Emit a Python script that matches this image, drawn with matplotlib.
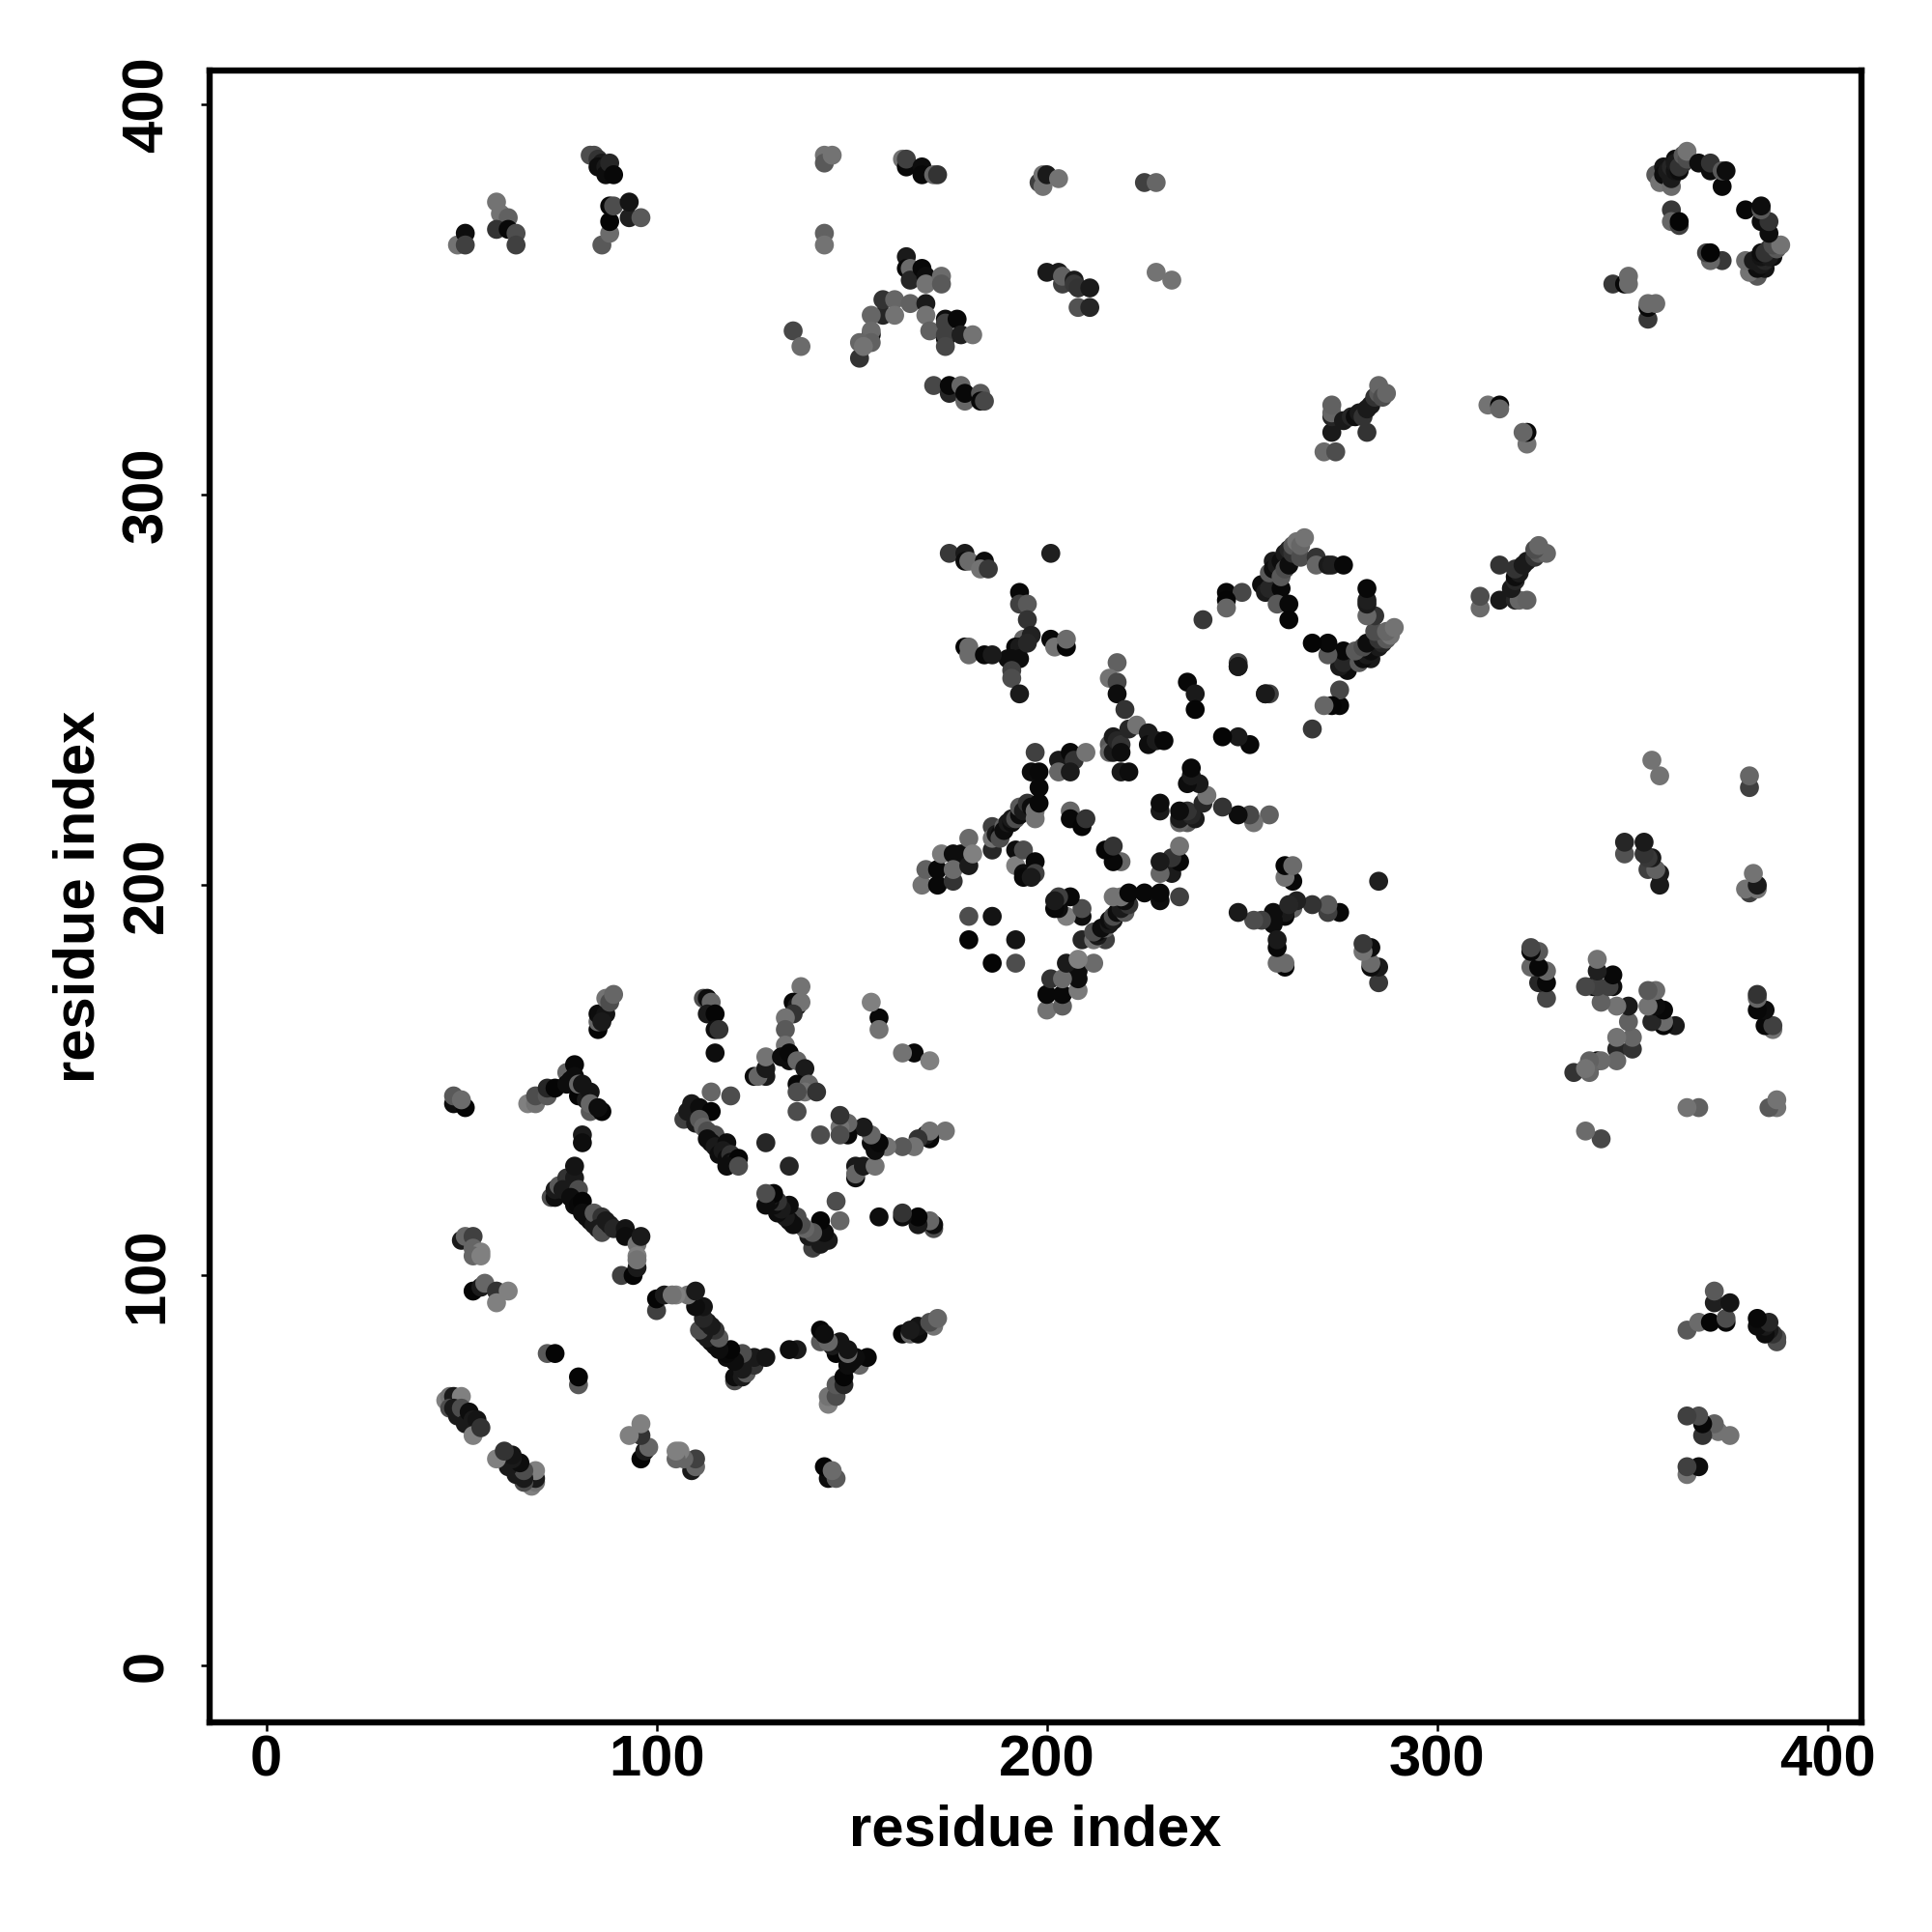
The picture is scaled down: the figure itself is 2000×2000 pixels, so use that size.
#!/usr/bin/env python3
import numpy as np
import matplotlib
matplotlib.use('Agg')
import matplotlib.pyplot as plt

plt.rcParams['font.family'] = ['Liberation Sans', 'DejaVu Sans']
plt.rcParams['font.weight'] = 'bold'

# contacts as (residue i, residue j, grey level); map is symmetric, only j > i listed
helix_left = [(48, 144, .05), (51, 143, .02), (48, 146, .35), (50, 145, .42),
              (67, 144, .5), (69, 144, .45), (69, 146, .3), (72, 146, .35), (72, 148, .15), (74, 148, .02),
              (77, 152, .4), (79, 154, .03), (79, 151, .05), (77, 149, .05), (78, 150, .05), (80, 146, .02), (80, 149, .4),
              (81, 149, .08), (82, 145, .1), (83, 147, .08), (83, 142, .35), (83, 144, .4), (86, 142, .02), (85, 143, .05),
              (81, 136, .1), (81, 134, .05),
              (85, 163, .02), (85, 165, .4), (85, 167, .05), (87, 167, .08), (86, 165, .1), (87, 171, .45), (88, 170, .3), (89, 172, .4)]

chain_low = [(73, 120, .3), (74, 120, .05), (74, 122, .1), (75, 123, .35), (77, 125, .2), (79, 125, .1), (76, 122, .1),
             (79, 128, .08), (80, 122, .3), (78, 120, .05), (79, 118, .05), (80, 118, .03), (81, 119, .02), (81, 116, .05), (82, 115, .05),
             (83, 114, .05), (84, 113, .1), (84, 116, .35), (86, 115, .2), (85, 112, .1), (86, 111, .3), (87, 114, .1), (88, 113, .1), (89, 112, .15), (92, 112, .08),
             (92, 110, .05), (95, 108, .45), (95, 105, .5), (96, 110, .1)]

patch_a = [(50, 109, .1), (51, 110, .4), (53, 110, .25), (53, 107, .4), (55, 106, .5), (53, 105, .4), (55, 105, .5),
           (53, 96, .02), (55, 97, .1), (56, 98, .4), (59, 96, .2), (62, 96, .5), (59, 93, .5),
           (91, 100, .25), (94, 100, .02), (95, 102, .1), (95, 104, .45),
           (72, 80, .35), (74, 80, .02),
           (46, 68, .5), (47, 69, .45), (48, 69, .1), (47, 66, .3), (50, 69, .5), (48, 66, .1), (49, 64, .1), (50, 66, .3),
           (51, 62, .1), (52, 65, .05), (53, 63, .1), (54, 63, .08), (53, 59, .5), (55, 61, .2)]

core_a = [(112, 171, .3), (113, 171, .05), (114, 170, .4), (113, 167, .1), (115, 167, .02),
          (115, 163, .05), (116, 163, .2), (115, 157, .05),
          (137, 174, .45), (135, 170, .03), (136, 169, .1), (137, 170, .45), (135, 167, .2), (133, 166, .45), (133, 163, .35),
          (133, 159, .45), (128, 151, .1), (125, 151, .05), (126, 151, .4), (128, 153, .1), (128, 156, .45),
          (134, 155, .05), (132, 156, .05), (134, 157, .03), (136, 155, .4), (138, 153, .1),
          (136, 149, .03), (139, 149, .4), (138, 147, .45), (136, 147, .3), (141, 147, .2),
          (114, 147, .4), (119, 146, .3), (136, 142, .3), (128, 134, .15),
          (157, 166, .03), (155, 170, .5), (157, 163, .45)]

diag_a = [(107, 140, .25), (108, 142, .1), (109, 144, .1), (110, 141, .1), (111, 143, .05), (114, 142, .02), (110, 139, .1), (111, 140, .35), (112, 138, .4),
          (113, 137, .3), (115, 136, .3), (113, 135, .05), (114, 134, .05), (115, 133, .1), (118, 134, .05), (116, 131, .05), (117, 132, .1),
          (118, 130, .05), (119, 131, .2), (119, 129, .05), (120, 129, .1), (121, 130, .02),
          (118, 128, .05), (121, 128, .3)]

centre_strand = [(168, 200, .45), (169, 204, .38), (172, 204, .03), (172, 200, .03), (173, 208, .48), (176, 208, .05),
                 (178, 208, .05), (176, 201, .2), (176, 204, .42), (180, 205, .1), (180, 212, .42), (181, 208, .5),
                 (186, 209, .15), (186, 215, .25), (186, 212, .45), (187, 213, .1), (188, 213, .05), (188, 212, .3), (189, 215, .4),
                 (189, 214, .05), (190, 216, .1), (191, 216, .05), (191, 217, .1), (192, 217, .3), (193, 218, .05), (193, 220, .35), (194, 219, .1), (195, 221, .2),
                 (196, 220, .05), (197, 217, .45), (197, 219, .45), (198, 221, .03), (198, 225, .03), (196, 229, .05), (198, 229, .03),
                 (197, 234, .25)]

centre_rest = [(192, 209, .05), (192, 205, .5), (194, 209, .3), (194, 203, .05), (194, 202, .03),
               (197, 206, .03), (197, 203, .25), (196, 202, .1),
               (203, 232, .1), (206, 234, .03), (207, 232, .2), (210, 234, .45), (203, 229, .4), (206, 229, .1),
               (216, 236, .35), (216, 234, .4), (217, 234, .1), (217, 238, .1), (218, 237, .15), (219, 236, .2), (219, 234, .05),
               (221, 240, .15), (223, 241, .45), (226, 239, .1), (226, 236, .05), (228, 237, .1), (230, 237, .03),
               (219, 229, .1), (221, 229, .05),
               (206, 219, .4), (206, 217, .03), (209, 215, .02), (210, 217, .2),
               (180, 192, .3), (186, 192, .08), (180, 186, .02)]

cross_a = [(175, 285, .22), (179, 285, .1), (179, 283, .05), (180, 283, .42), (184, 283, .05), (183, 281, .45), (185, 281, .22),
           (201, 285, .12),
           (193, 275, .03), (193, 272, .25), (195, 272, .35), (195, 268, .2), (194, 263, .4), (192, 261, .03),
           (193, 261, .1), (190, 258, .05), (193, 258, .05), (191, 258, .05), (196, 264, .13), (195, 262, .15),
           (191, 255, .25), (191, 253, .3), (193, 249, .1),
           (179, 261, .02), (180, 261, .42), (180, 259, .42), (184, 259, .03), (186, 259, .1),
           (201, 263, .03), (202, 261, .45), (205, 261, .02), (205, 263, .42),
           (218, 257, .38), (216, 253, .45), (218, 252, .28), (218, 249, .05), (220, 245, .2)]

loop_b = [(240, 268, .22), (246, 275, .03), (250, 275, .28), (246, 273, .02), (246, 271, .4),
          (255, 277, .05), (256, 275, .1), (257, 276, .15), (260, 276, .03), (259, 272, .35), (262, 272, .03), (262, 268, .02),
          (257, 280, .35), (258, 283, .1), (258, 281, .05), (259, 282, .1), (260, 279, .35), (260, 283, .05), (261, 285, .1), (261, 281, .3),
          (262, 282, .05), (262, 286, .15), (263, 285, .2), (263, 287, .35), (265, 284, .3), (264, 288, .45), (265, 287, .4), (266, 289, .45),
          (269, 284, .2), (269, 282, .4), (272, 282, .1), (273, 282, .12), (276, 282, .03),
          (249, 257, .25), (249, 256, .1), (256, 249, .1), (236, 252, .03), (238, 249, .1), (238, 245, .02)]

strand_c = [(271, 311, .42), (274, 311, .3), (273, 316, .1), (282, 316, .2), (273, 320, .15), (273, 321, .4), (273, 323, .38),
            (276, 319, .1), (278, 320, .15), (279, 320, .05), (280, 321, .1), (281, 320, .2), (282, 322, .1), (283, 323, .1),
            (284, 325, .2), (285, 326, .35), (285, 328, .4), (286, 325, .3), (287, 326, .4),
            (313, 323, .45), (316, 323, .03), (316, 322, .4)]

far_top = [(49, 364, .45), (51, 367, .05), (51, 364, .25),
           (59, 375, .45), (60, 372, .45), (62, 371, .38), (59, 368, .2), (62, 368, .03), (64, 367, .3), (64, 364, .25),
           (84, 387, .3), (83, 387, .3), (85, 386, .2), (86, 385, .1), (85, 384, .05), (87, 384, .1), (87, 382, .05), (88, 385, .15), (89, 382, .03),
           (86, 364, .35), (88, 367, .42), (88, 370, .02), (88, 374, .03), (89, 374, .3), (93, 371, .12), (93, 375, .08), (96, 371, .35),
           (143, 387, .45), (143, 385, .35), (145, 387, .45), (143, 367, .38), (143, 364, .45),
           (163, 386, .45), (164, 384, .03), (164, 386, .25), (168, 384, .05), (168, 382, .03), (171, 382, .4), (172, 382, .2),
           (198, 380, .25), (199, 382, .45), (199, 379, .45), (200, 382, .1), (203, 381, .45),
           (225, 380, .25), (228, 380, .4), (228, 357, .45), (232, 355, .45)]

top_mid = [(164, 361, .1), (164, 358, .03), (165, 358, .42), (165, 355, .15), (168, 358, .03), (169, 356, .05), (169, 354, .45),
           (173, 356, .42), (173, 354, .35),
           (158, 346, .15), (155, 346, .4), (158, 350, .2), (161, 350, .4), (161, 346, .45), (165, 349, .38), (169, 349, .1),
           (169, 346, .45), (170, 342, .38), (155, 341, .03), (155, 342, .42), (155, 339, .38), (152, 335, .2), (152, 339, .4), (153, 338, .45),
           (174, 345, .05), (174, 344, .25), (177, 345, .03), (174, 340, .03), (174, 341, .25), (178, 341, .12), (181, 341, .45), (174, 338, .28),
           (171, 328, .28), (175, 326, .15), (175, 328, .03), (178, 328, .4), (179, 324, .4), (179, 326, .03), (183, 326, .35), (183, 324, .03), (184, 324, .28),
           (135, 342, .28), (137, 338, .42),
           (200, 357, .1), (203, 357, .1), (204, 354, .25), (204, 356, .38), (207, 355, .1), (207, 354, .22),
           (208, 348, .32), (211, 348, .15), (208, 353, .2), (211, 353, .1)]

loop_d = [(356, 382, .35), (357, 380, .45), (358, 384, .08), (358, 382, .05), (359, 383, .1), (360, 379, .42), (360, 381, .1), (360, 384, .15), (361, 386, .05),
          (361, 383, .08), (361, 385, .1), (362, 383, .05), (362, 384, .2), (363, 385, .2), (363, 387, .35), (364, 386, .3), (364, 388, .45), (367, 385, .05),
          (370, 383, .05), (370, 385, .2), (373, 379, .03), (373, 383, .35), (374, 383, .05),
          (360, 373, .22), (360, 370, .4), (362, 369, .25), (362, 370, .02),
          (345, 354, .22), (348, 354, .03), (349, 354, .42), (349, 356, .42)]

x_ticks = [0, 100, 200, 300, 400]
axis_label = 'residue index'

blocks = [helix_left, chain_low, patch_a, core_a, diag_a, centre_strand, centre_rest,
          cross_a, loop_b, strand_c, far_top, top_mid, loop_d]
contacts = np.array([c for b in blocks for c in b])
res_i = np.concatenate([contacts[:, 0], contacts[:, 1]])
res_j = np.concatenate([contacts[:, 1], contacts[:, 0]])
grey = np.concatenate([contacts[:, 2], contacts[:, 2]])

fig = plt.figure(figsize=(10, 10), dpi=200)
ax = fig.add_axes([217 / 2000, 217 / 2000, 1710 / 2000, 1710 / 2000])
ax.scatter(res_i, res_j, s=50, c=[str(g) for g in grey], linewidths=0, zorder=2)

ax.set_xlim(-14.5, 408.7)
ax.set_ylim(-14.5, 408.7)
ax.set_xticks(x_ticks)
ax.set_yticks(x_ticks)
ax.tick_params(axis='x', length=3.2, width=0.9, labelsize=21.5, pad=1.2)
ax.tick_params(axis='y', length=3.2, width=0.9, labelsize=21.5, pad=10, labelrotation=90)
for lab in ax.get_yticklabels():
    lab.set_va('center')
for s in ax.spines.values():
    s.set_linewidth(2.3)

ax.set_xlabel(axis_label, fontsize=21.5, fontweight='bold', va='center')
ax.set_ylabel(axis_label, fontsize=21.5, fontweight='bold', va='center')
ax.xaxis.set_label_coords(0.5, (1783 - 1895) / 1710)
ax.yaxis.set_label_coords((82 - 217) / 1710, 0.5)

fig.savefig('out.png', dpi=200, facecolor='white')
